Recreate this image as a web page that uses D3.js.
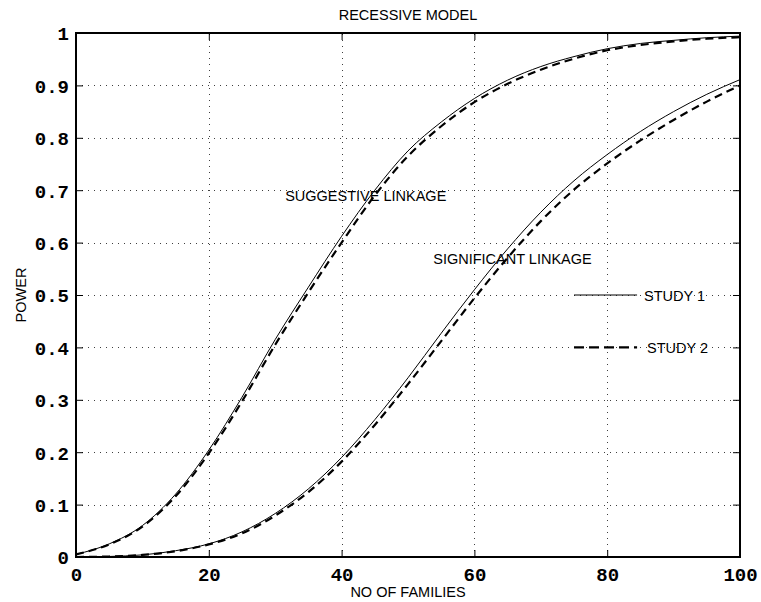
<!DOCTYPE html>
<html>
<head>
<meta charset="utf-8">
<script src="https://cdn.jsdelivr.net/npm/d3@7"></script>
<style>
	body { margin: 0; background: #fff; }
	svg { display: block; }
	.lbl { font-family: "Liberation Sans", Arial, sans-serif; font-size: 14.5px; fill: #000; }
	.tick text { font-family: "Liberation Mono", "Courier New", monospace; font-weight: bold; font-size: 19px; fill: #000; }
</style>
</head>
<body>
<div id="chart"></div>
<script>
"use strict";

// Chart size and plot box
const W = 761, H = 602;
const margin = { top: 33, right: 21, bottom: 45, left: 76 };

// Data (power vs number of families)
const families = [0, 5, 10, 15, 20, 25, 30, 35, 40, 45, 50, 55, 60, 65, 70, 75, 80, 85, 90, 95, 100];
const suggestiveStudy1 = [0.005, 0.025, 0.06, 0.12, 0.204, 0.305, 0.415, 0.515, 0.612, 0.70, 0.775, 0.83, 0.875, 0.91, 0.936, 0.955, 0.970, 0.980, 0.986, 0.991, 0.994];
const suggestiveStudy2 = [0.005, 0.024, 0.058, 0.116, 0.198, 0.297, 0.405, 0.505, 0.600, 0.690, 0.765, 0.822, 0.868, 0.903, 0.930, 0.951, 0.967, 0.977, 0.984, 0.989, 0.992];
const significantStudy1 = [0, 0.001, 0.004, 0.012, 0.025, 0.048, 0.083, 0.13, 0.19, 0.262, 0.342, 0.427, 0.51, 0.588, 0.658, 0.718, 0.768, 0.812, 0.85, 0.883, 0.911];
const significantStudy2 = [0, 0.001, 0.004, 0.011, 0.024, 0.045, 0.079, 0.124, 0.182, 0.252, 0.33, 0.412, 0.494, 0.571, 0.641, 0.701, 0.751, 0.795, 0.834, 0.869, 0.90];

const xTicks = [0, 20, 40, 60, 80, 100];
const yTicks = [0, 0.1, 0.2, 0.3, 0.4, 0.5, 0.6, 0.7, 0.8, 0.9, 1];
const yTickLabels = ["0", "0.1", "0.2", "0.3", "0.4", "0.5", "0.6", "0.7", "0.8", "0.9", "1"];

// Text labels placed in data units
const curveLabels = [
	{ text: "SUGGESTIVE LINKAGE", x: 31.5, y: 0.679 },
	{ text: "SIGNIFICANT LINKAGE", x: 53.8, y: 0.56 }
];
const legendItems = [
	{ text: "STUDY 1", x0: 75, x1: 84.5, y: 0.5, dashed: false },
	{ text: "STUDY 2", x0: 75, x1: 84.5, y: 0.4, dashed: true }
];

const x = d3.scaleLinear().domain([0, 100]).range([margin.left, W - margin.right]);
const y = d3.scaleLinear().domain([0, 1]).range([H - margin.bottom, margin.top]);

const svg = d3.select("#chart").append("svg")
	.attr("width", W)
	.attr("height", H);

// dotted grid
const grid = svg.append("g").attr("stroke", "#000").attr("stroke-width", 1)
	.attr("stroke-dasharray", "1,5").attr("opacity", 0.75);
grid.selectAll("line.v").data(xTicks.slice(1, -1)).enter().append("line")
	.attr("x1", d => Math.round(x(d)) + 0.5).attr("x2", d => Math.round(x(d)) + 0.5)
	.attr("y1", y(0)).attr("y2", y(1));
grid.selectAll("line.h").data(yTicks.slice(1, -1)).enter().append("line")
	.attr("y1", d => Math.round(y(d)) + 0.5).attr("y2", d => Math.round(y(d)) + 0.5)
	.attr("x1", x(0)).attr("x2", x(100));

// axes, ticks drawn inward
const tickLen = 7;
const fmtY = d => yTickLabels[yTicks.indexOf(d)];

const axBottom = svg.append("g")
	.attr("transform", `translate(0,${y(0)})`)
	.call(d3.axisBottom(x).tickValues(xTicks).tickSizeInner(-tickLen).tickSizeOuter(0).tickPadding(10).tickFormat(d3.format("d")));
const axLeft = svg.append("g")
	.attr("transform", `translate(${x(0)},0)`)
	.call(d3.axisLeft(y).tickValues(yTicks).tickSizeInner(-tickLen).tickSizeOuter(0).tickPadding(7).tickFormat(fmtY));
const axTop = svg.append("g")
	.attr("transform", `translate(0,${y(1)})`)
	.call(d3.axisTop(x).tickValues(xTicks).tickSizeInner(-tickLen).tickSizeOuter(0).tickFormat(""));
const axRight = svg.append("g")
	.attr("transform", `translate(${x(100)},0)`)
	.call(d3.axisRight(y).tickValues(yTicks).tickSizeInner(-tickLen).tickSizeOuter(0).tickFormat(""));

[axBottom, axLeft, axTop, axRight].forEach(a => {
	a.select(".domain").remove();
	a.selectAll(".tick line").attr("stroke", "#000").attr("stroke-width", 1);
});
axBottom.selectAll(".tick text").attr("dy", "0.72em");
axLeft.selectAll(".tick text").attr("dy", "0.36em");

// box round the plot
svg.append("rect")
	.attr("x", x(0)).attr("y", y(1))
	.attr("width", x(100) - x(0)).attr("height", y(0) - y(1))
	.attr("fill", "none").attr("stroke", "#000").attr("stroke-width", 2);

// curves
const line = d3.line()
	.x((d, i) => x(families[i]))
	.y(d => y(d))
	.curve(d3.curveMonotoneX);

const series = [
	{ values: suggestiveStudy1, dashed: false },
	{ values: suggestiveStudy2, dashed: true },
	{ values: significantStudy1, dashed: false },
	{ values: significantStudy2, dashed: true }
];

svg.append("g").selectAll("path")
	.data(series)
	.enter()
	.append("path")
	.attr("d", d => line(d.values))
	.attr("fill", "none")
	.attr("stroke", "#000")
	.attr("stroke-width", d => d.dashed ? 2.2 : 1)
	.attr("stroke-dasharray", d => d.dashed ? "8,5" : null);

// curve labels
svg.selectAll("text.curve")
	.data(curveLabels)
	.enter()
	.append("text")
	.attr("class", "lbl")
	.attr("x", d => x(d.x))
	.attr("y", d => y(d.y))
	.text(d => d.text);

// legend drawn inside the plot
const legend = svg.append("g");
legend.selectAll("line")
	.data(legendItems)
	.enter()
	.append("line")
	.attr("x1", d => x(d.x0)).attr("x2", d => x(d.x1))
	.attr("y1", d => y(d.y)).attr("y2", d => y(d.y))
	.attr("stroke", "#000")
	.attr("stroke-width", d => d.dashed ? 2.2 : 1)
	.attr("stroke-dasharray", d => d.dashed ? "10,5" : null);
legend.selectAll("text")
	.data(legendItems)
	.enter()
	.append("text")
	.attr("class", "lbl")
	.attr("x", d => x(d.x1) + (d.dashed ? 10 : 7))
	.attr("y", d => y(d.y) + 6)
	.text(d => d.text);

// title and axis labels
svg.append("text").attr("class", "lbl")
	.attr("x", (x(0) + x(100)) / 2).attr("y", 20)
	.attr("text-anchor", "middle")
	.text("RECESSIVE MODEL");
svg.append("text").attr("class", "lbl")
	.attr("x", (x(0) + x(100)) / 2).attr("y", 597)
	.attr("text-anchor", "middle")
	.text("NO OF FAMILIES");
svg.append("text").attr("class", "lbl")
	.attr("transform", `translate(26,${(y(0) + y(1)) / 2}) rotate(-90)`)
	.attr("text-anchor", "middle")
	.text("POWER");
</script>
</body>
</html>
